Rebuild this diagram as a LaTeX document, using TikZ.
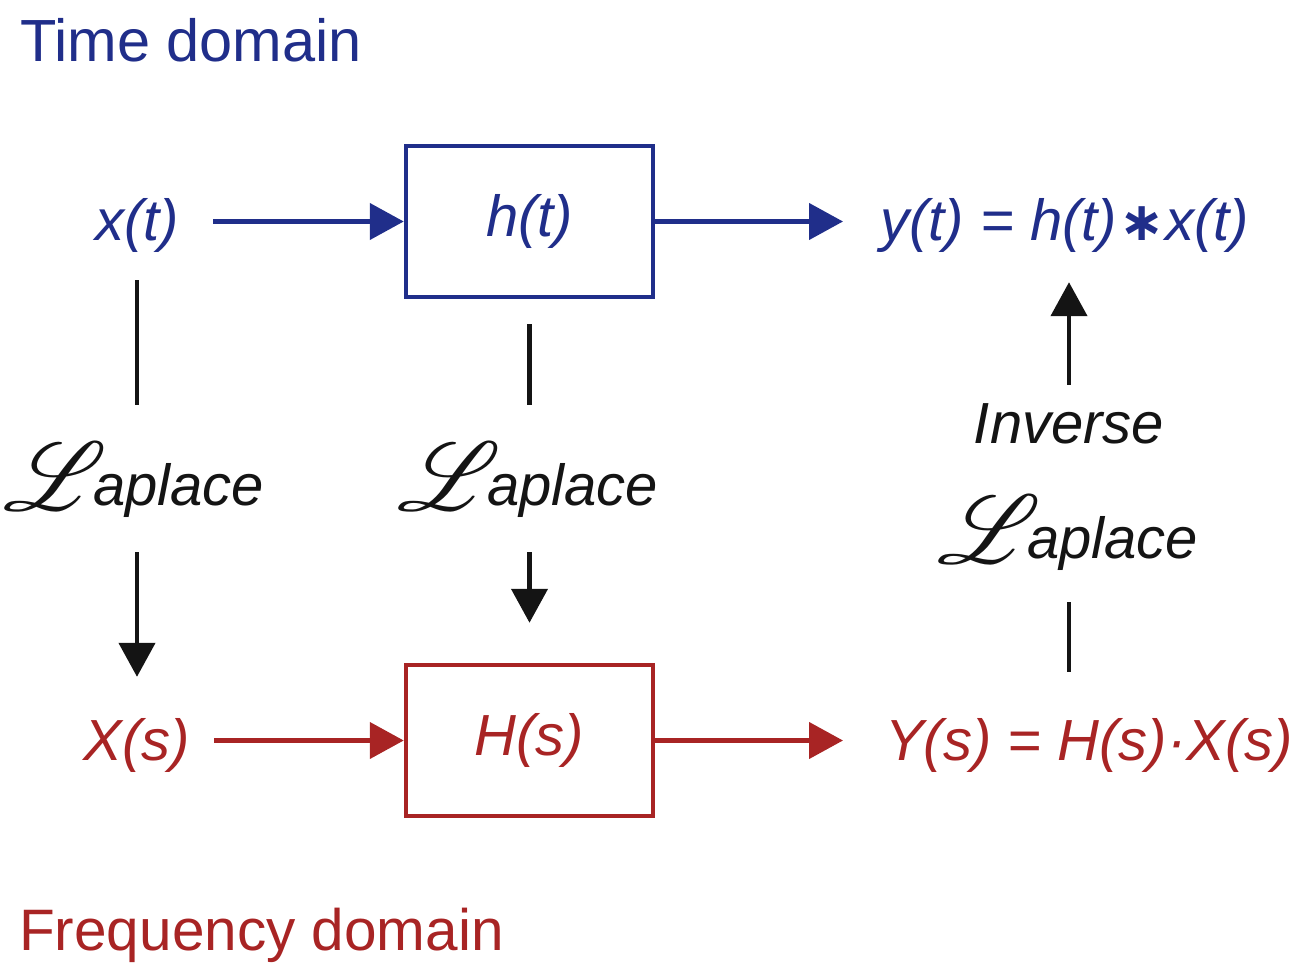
\documentclass[tikz,border=0pt]{standalone}
\usepackage{fontspec}
\usepackage{mathrsfs}
\usepackage{graphicx}
\setmainfont{Liberation Sans}
\newfontfamily\djv{DejaVu Sans}
\usetikzlibrary{arrows.meta}
\definecolor{tblue}{RGB}{32,46,138}
\definecolor{fred}{RGB}{168,36,36}
\definecolor{lblack}{RGB}{20,20,20}
\tikzset{
  lbl/.style={inner sep=0pt, anchor=base, font=\fontsize{58}{60}\selectfont\itshape},
  blk/.style={draw, line width=4.5pt, minimum width=247pt, minimum height=151pt, inner sep=0pt, font=\fontsize{58}{60}\selectfont\itshape},
  conn/.style={line width=4.5pt, -{Triangle[length=34pt,width=36pt]}},
  plain/.style={line width=4.5pt},
  lap/.style={inner sep=0pt, anchor=base, text=lblack, font=\fontsize{58}{60}\selectfont\itshape},
}
\newcommand{\scrL}{\raisebox{-5pt}{\scalebox{3.9}{$\mathscr{L}$}}\kern-14pt}
\newcommand{\conv}{\kern2pt{\djv\upshape\bfseries\fontsize{54}{54}\selectfont ∗}\kern1pt}
\begin{document}
\begin{tikzpicture}[x=1pt,y=-1pt]
\useasboundingbox (0,0) rectangle (1296,963);
% titles
\node[anchor=base west, inner sep=0pt, text=tblue, font=\fontsize{59.5}{61}\selectfont] (td) at (20,62) {Time domain};
\node[anchor=base west, inner sep=0pt, text=fred, font=\fontsize{58.5}{60}\selectfont] (fd) at (19,950) {Frequency domain};
% time row
\node[lbl, text=tblue, text height=45pt, text depth=40pt] (xt) at (137,240) {x(t)};
\node[blk, draw=tblue, text=tblue] (ht) at (529.5,221.5) {h(t)};
\node[lbl, text=tblue, anchor=base west, text height=45pt, text depth=42pt] (yt) at (880,240) {y(t) = h(t)\conv x(t)};
% frequency row
\node[lbl, text=fred, text height=83pt, text depth=12pt] (Xs) at (137,760) {X(s)};
\node[blk, draw=fred, text=fred] (Hs) at (529.5,740.5) {H(s)};
\node[lbl, text=fred, anchor=base west, text height=88pt, text depth=12pt] (Ys) at (885,760) {Y(s) = H(s)·X(s)};
% laplace labels
\node[lap, text height=100pt, text depth=47pt] (l1) at (134,505) {\scrL aplace};
\node[lap, text height=100pt, text depth=47pt] (l2) at (528,505) {\scrL aplace};
\node[lap, text height=58pt, text depth=15pt] (inv) at (1069,443) {Inverse};
\node[lap, text height=80pt, text depth=44pt] (l3) at (1068,558) {\scrL aplace};
% horizontal connectors
\draw[conn, tblue, shorten <=34pt] (xt.east |- ht.west) -- (ht.west);
\draw[conn, tblue, shorten >=37pt] (ht.east) -- (yt.west |- ht.east);
\draw[conn, fred, shorten <=24pt] (Xs.east |- Hs.west) -- (Hs.west);
\draw[conn, fred, shorten >=42pt] (Hs.east) -- (Ys.west |- Hs.east);
% vertical connectors
\draw[plain, lblack] (xt.south) -- (xt.south |- l1.north);
\draw[conn, lblack] (l1.south -| xt.south) -- (Xs.north);
\draw[plain, lblack, shorten <=25pt] (ht.south) -- (ht.south |- l2.north);
\draw[conn, lblack, shorten >=40pt] (l2.south -| ht.south) -- (Hs.north);
\draw[plain, lblack] (l3.south -| inv.south) -- (Ys.north -| inv.south);
\draw[conn, lblack] (inv.north) -- (inv.north |- yt.south);
\end{tikzpicture}
\end{document}
